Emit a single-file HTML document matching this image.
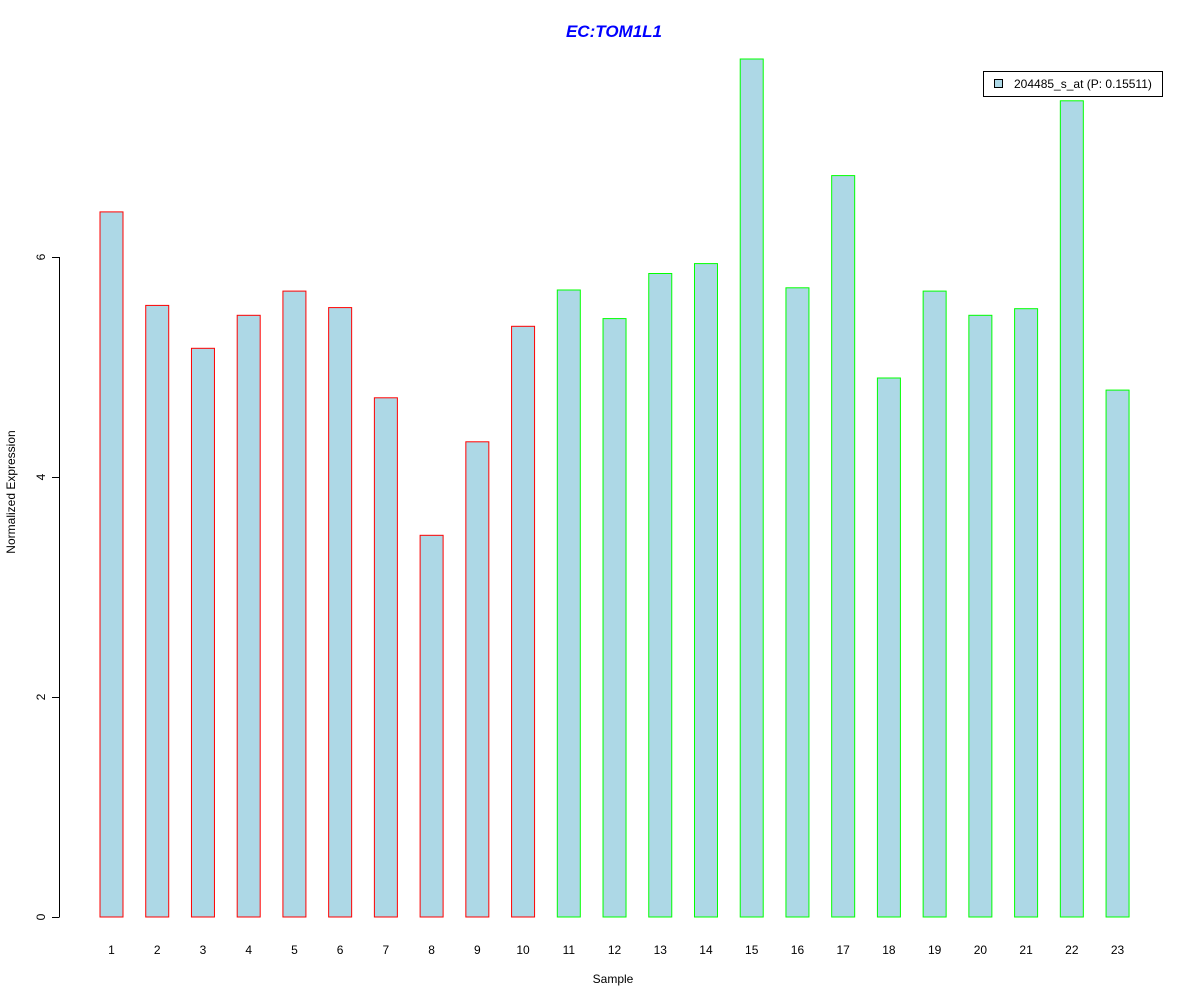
<!DOCTYPE html>
<html><head><meta charset="utf-8">
<style>
html,body{margin:0;padding:0;background:#fff;}
svg{display:block;font-family:"Liberation Sans",Arial,sans-serif;}
</style></head>
<body>
<svg id="chart" width="1200" height="1000" viewBox="0 0 1200 1000">
  <text x="614" y="37" text-anchor="middle" font-size="17" font-weight="bold" font-style="italic" fill="#0000ff">EC:TOM1L1</text>
  <text x="613" y="983" text-anchor="middle" font-size="12" fill="#000">Sample</text>
  <text transform="translate(15,492) rotate(-90)" text-anchor="middle" font-size="12" fill="#000">Normalized Expression</text>
  <g id="yaxis"></g>
  <g id="bars"></g>
  <g id="xlabels"></g>
  <g>
    <rect x="983.5" y="71.5" width="179" height="25" fill="#fff" stroke="#000"/>
    <rect x="994.5" y="79.5" width="8" height="8" fill="#add8e6" stroke="#000"/>
    <text x="1014" y="88" font-size="12" fill="#000">204485_s_at (P: 0.15511)</text>
  </g>
</svg>
<script>
const categories = ["1","2","3","4","5","6","7","8","9","10","11","12","13","14","15","16","17","18","19","20","21","22","23"];
const values = [6.41,5.56,5.17,5.47,5.69,5.54,4.72,3.47,4.32,5.37,5.70,5.44,5.85,5.94,7.80,5.72,6.74,4.90,5.69,5.47,5.53,7.42,4.79];
const groups = ["a","a","a","a","a","a","a","a","a","a","b","b","b","b","b","b","b","b","b","b","b","b","b"];
const yTicks = [0,2,4,6];

const NS = "http://www.w3.org/2000/svg";
const y = v => 917 - v * 110;
const x = i => 111.5 + i * 45.73;
const barW = 23;

const ya = document.getElementById("yaxis");
const axisLine = document.createElementNS(NS,"line");
axisLine.setAttribute("x1",59.5);axisLine.setAttribute("x2",59.5);
axisLine.setAttribute("y1",y(yTicks[0]));axisLine.setAttribute("y2",y(yTicks[yTicks.length-1]));
axisLine.setAttribute("stroke","#000");


ya.appendChild(axisLine);
yTicks.forEach(t => {
  const tk = document.createElementNS(NS,"line");
  tk.setAttribute("x1",52);tk.setAttribute("x2",59.5);
  tk.setAttribute("y1",y(t)+0.5);tk.setAttribute("y2",y(t)+0.5);
  tk.setAttribute("stroke","#000");
  
  
  ya.appendChild(tk);
  const lb = document.createElementNS(NS,"text");
  lb.setAttribute("transform",`translate(45,${y(t)}) rotate(-90)`);
  lb.setAttribute("text-anchor","middle");
  lb.setAttribute("font-size","12");
  lb.textContent = t;
  
  
  ya.appendChild(lb);
});

const bg = document.getElementById("bars");
const xl = document.getElementById("xlabels");
values.forEach((v,i) => {
  const r = document.createElementNS(NS,"rect");
  r.setAttribute("x", x(i) - barW/2);
  r.setAttribute("y", y(v));
  r.setAttribute("width", barW);
  r.setAttribute("height", y(0) - y(v));
  r.setAttribute("fill","#add8e6");
  r.setAttribute("stroke", groups[i] === "a" ? "#ff0000" : "#00ff00");
  
  
  bg.appendChild(r);
  const t = document.createElementNS(NS,"text");
  t.setAttribute("x", x(i));
  t.setAttribute("y", 954);
  t.setAttribute("text-anchor","middle");
  t.setAttribute("font-size","12");
  t.textContent = categories[i];
  
  
  xl.appendChild(t);
});
</script>
</body></html>
